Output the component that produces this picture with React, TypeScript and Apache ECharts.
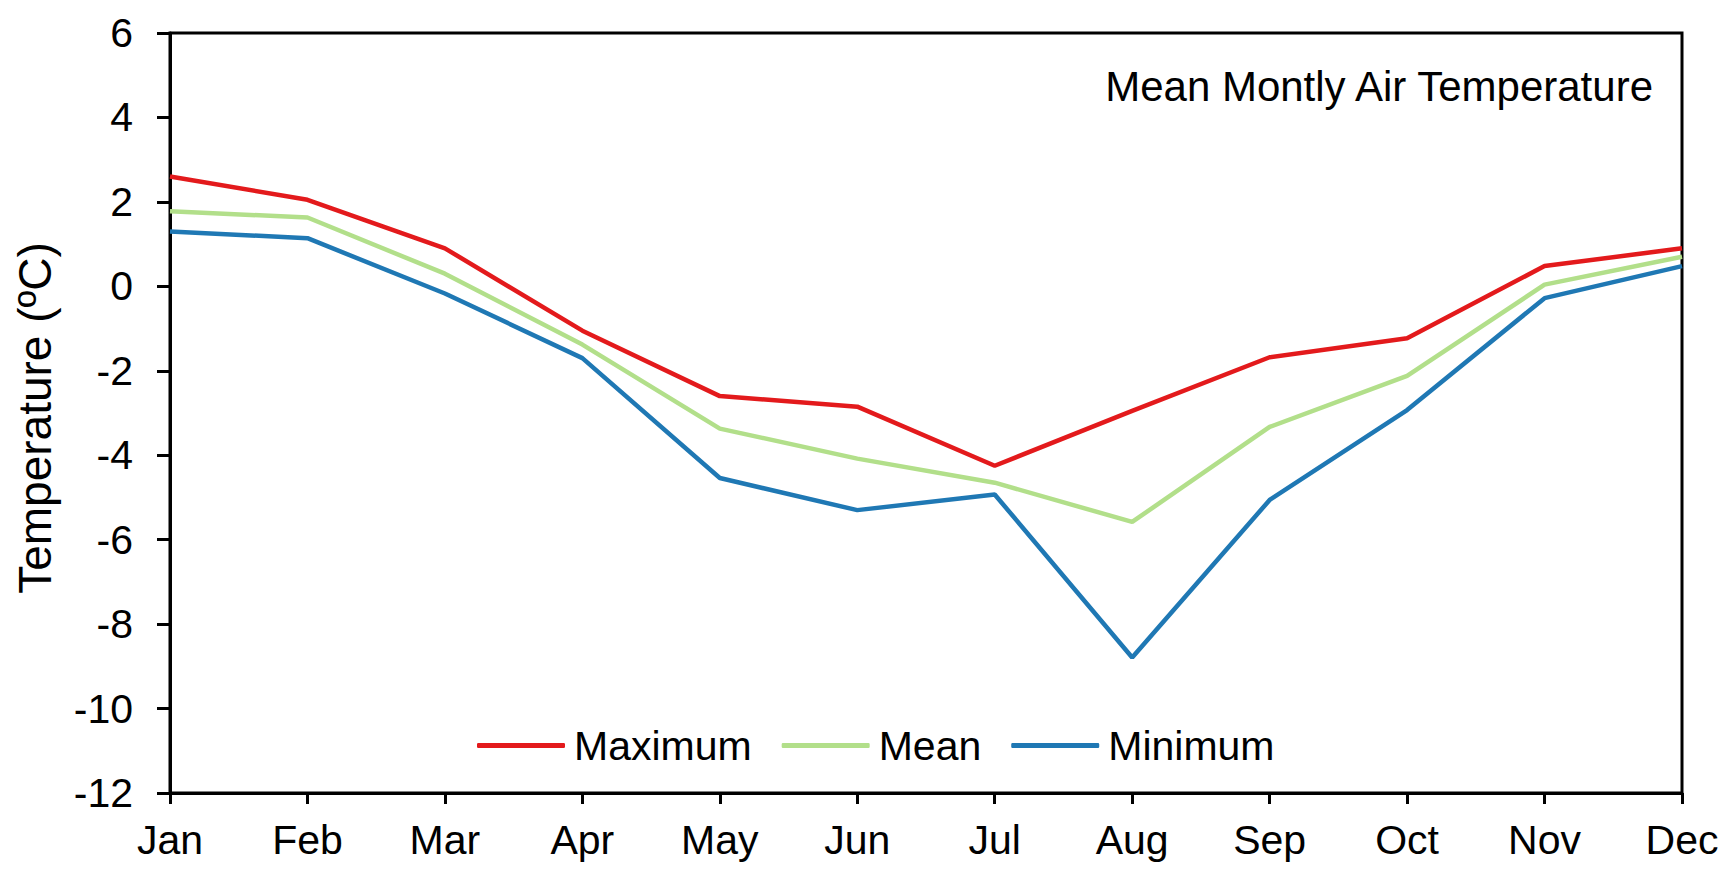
import React, { useEffect, useRef } from "react";
import * as echarts from "echarts";

const months = ["Jan", "Feb", "Mar", "Apr", "May", "Jun", "Jul", "Aug", "Sep", "Oct", "Nov", "Dec"];
const maximum = [2.6, 2.05, 0.9, -1.05, -2.6, -2.85, -4.25, -2.95, -1.68, -1.23, 0.48, 0.9];
const mean = [1.78, 1.63, 0.3, -1.38, -3.37, -4.08, -4.65, -5.58, -3.33, -2.12, 0.04, 0.7];
const minimum = [1.3, 1.14, -0.17, -1.7, -4.54, -5.3, -4.93, -8.79, -5.06, -2.93, -0.28, 0.48];
const chartTitle = "Mean Montly Air Temperature";
const yAxisName = "Temperature (ºC)";

const FONT = "Liberation Sans, Arial, sans-serif";

export default function App() {
  const ref = useRef<HTMLDivElement>(null);
  useEffect(() => {
    if (!ref.current) return;
    const chart = echarts.init(ref.current, undefined, { renderer: "svg" });
    const mk = (name: string, data: number[], color: string) => ({
      name,
      type: "line",
      data,
      showSymbol: false,
      symbol: "none",
      lineStyle: { color, width: 4.5 },
      itemStyle: { color },
      z: 3,
    });
    chart.setOption({
      animation: false,
      backgroundColor: "#fff",
      textStyle: { fontFamily: FONT, color: "#000" },
      grid: {
        left: 170,
        right: 54,
        top: 33,
        bottom: 87,
        show: true,
        borderColor: "#000",
        borderWidth: 3,
        containLabel: false,
      },
      legend: {
        left: 472,
        top: 720,
        icon: "roundRect",
        itemWidth: 88,
        itemHeight: 5,
        itemGap: 30,
        textStyle: { fontFamily: FONT, fontSize: 41, color: "#000", padding: [0, 0, 0, 4] },
        data: ["Maximum", "Mean", "Minimum"],
      },
      graphic: [
        {
          type: "text",
          x: 1653,
          y: 86,
          style: {
            text: chartTitle,
            fontFamily: FONT,
            fontSize: 42,
            fill: "#000",
            textAlign: "right",
            textVerticalAlign: "middle",
          },
        },
      ],
      xAxis: {
        type: "category",
        data: months,
        boundaryGap: false,
        axisLine: { onZero: false, lineStyle: { color: "#000", width: 3 } },
        axisTick: { show: true, length: 11, lineStyle: { color: "#000", width: 3 } },
        axisLabel: { fontFamily: FONT, fontSize: 41, color: "#000", margin: 26 },
        splitLine: { show: false },
      },
      yAxis: {
        type: "value",
        min: -12,
        max: 6,
        interval: 2,
        name: yAxisName,
        nameLocation: "middle",
        nameGap: 112,
        nameTextStyle: { fontFamily: FONT, fontSize: 46, color: "#000", padding: [0, 10, 0, 0] },
        axisLine: { show: true, lineStyle: { color: "#000", width: 3 } },
        axisTick: { show: true, length: 13, lineStyle: { color: "#000", width: 3 } },
        axisLabel: { fontFamily: FONT, fontSize: 41, color: "#000", margin: 37 },
        splitLine: { show: false },
      },
      series: [
        mk("Maximum", maximum, "#e31a1c"),
        mk("Mean", mean, "#b2df8a"),
        mk("Minimum", minimum, "#1f78b4"),
      ],
    });
    return () => chart.dispose();
  }, []);
  return (
    <div
      ref={ref}
      style={{ position: "fixed", left: 0, top: 0, width: 1736, height: 880, background: "#fff" }}
    />
  );
}
